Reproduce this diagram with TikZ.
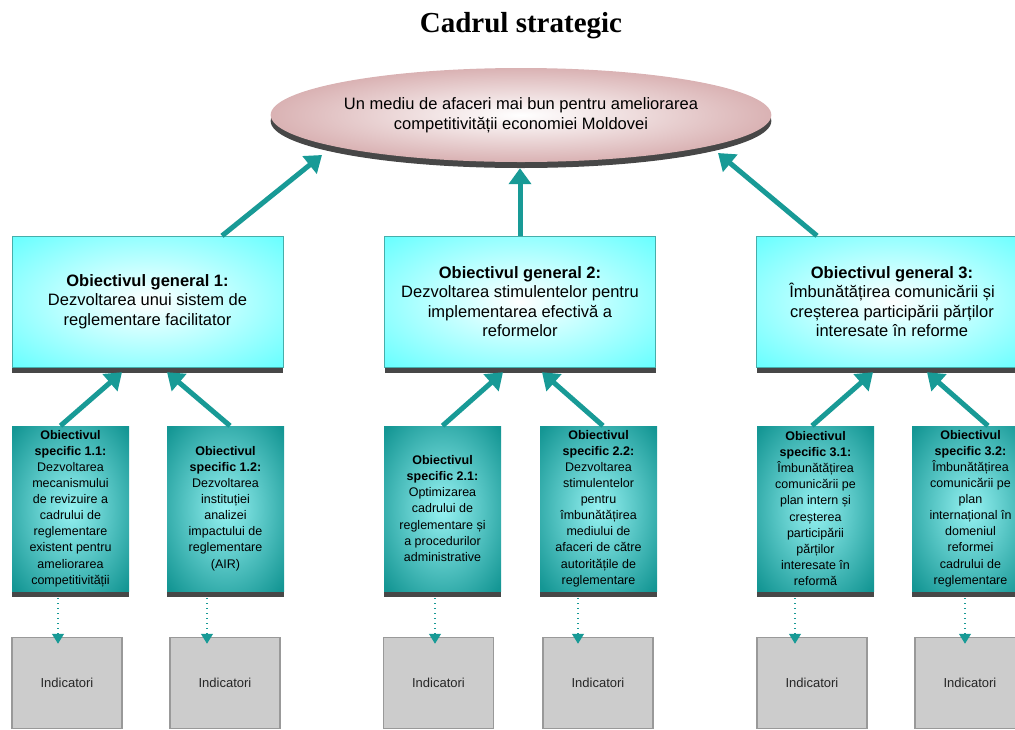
\documentclass[tikz,border=0pt]{standalone}
\usepackage{fontspec}
\setmainfont{Liberation Serif}
\setsansfont{Liberation Sans}
\usepackage{tikz}
\usetikzlibrary{arrows.meta, shapes.geometric, shadows, calc}

\definecolor{tealline}{RGB}{24,154,150}
\definecolor{genouter}{RGB}{100,255,255}
\definecolor{specouter}{RGB}{20,150,148}
\definecolor{specinner}{RGB}{150,242,242}
\definecolor{roseouter}{RGB}{198,138,140}

% radial fills that reach the outer colour before the edge
\pgfdeclareradialshading{genglow}{\pgfpoint{0bp}{0bp}}{color(0bp)=(white); color(36bp)=(genouter); color(50bp)=(genouter)}
\pgfdeclareradialshading{specglow}{\pgfpoint{0bp}{0bp}}{color(0bp)=(specinner); color(34bp)=(specouter); color(50bp)=(specouter)}
\pgfdeclareradialshading{roseglow}{\pgfpoint{0bp}{0bp}}{color(0bp)=(white); color(38bp)=(roseouter); color(50bp)=(roseouter)}

\begin{document}
\begin{tikzpicture}[
  x=1pt, y=-1pt,
  >={Triangle[length=16pt,width=22pt]},
  link/.style={->, line width=5pt, tealline},
  dotlink/.style={-{Triangle[length=10pt,width=12pt]}, line width=1.2pt, dash pattern=on 1pt off 4pt, tealline},
  depth/.style={drop shadow={shadow xshift=0pt, shadow yshift=-6pt, opacity=1, fill=black!72}},
  goalnode/.style={ellipse, depth, shading=roseglow, minimum width=478pt, minimum height=94pt,
    inner sep=0pt, align=center, font=\sffamily\fontsize{16.5}{20}\selectfont},
  general/.style={rectangle, depth, draw=tealline!80, shading=genglow, minimum width=271pt,
    minimum height=131pt, inner sep=0pt, align=center, font=\sffamily\fontsize{16.5}{19.5}\selectfont},
  specific/.style={rectangle, depth, shading=specglow, minimum width=117pt, minimum height=165pt,
    inner sep=0pt, align=center, font=\sffamily\fontsize{12.5}{16.1}\selectfont},
  indbox/.style={rectangle, draw=black!40, line width=1.5pt, fill=black!20, minimum width=110pt,
    minimum height=91pt, font=\sffamily\fontsize{13}{15}\selectfont, text=black!85},
]
\useasboundingbox (0,0) rectangle (1015,729);

% Title
\node[font=\rmfamily\bfseries\fontsize{29}{34}\selectfont] (title) at (521,26) {Cadrul strategic};

% Overall goal
\node[goalnode] (goal) at (521,115)
  {Un mediu de afaceri mai bun pentru ameliorarea\\competitivității economiei Moldovei};

% General objectives
\node[general] (og1) at (147.5,301.5)
  {\textbf{Obiectivul general 1:}\\Dezvoltarea unui sistem de\\reglementare facilitator};
\node[general] (og2) at (520,301.5)
  {\textbf{Obiectivul general 2:}\\Dezvoltarea stimulentelor pentru\\implementarea efectivă a\\reformelor};
\node[general] (og3) at (892,301.5)
  {\textbf{Obiectivul general 3:}\\Îmbunătățirea comunicării și\\creșterea participării părților\\interesate în reforme};

% Specific objectives
\node[specific] (os11) at (70.5,508.5)
  {\textbf{Obiectivul}\\\textbf{specific 1.1:}\\Dezvoltarea\\mecanismului\\de revizuire a\\cadrului de\\reglementare\\existent pentru\\ameliorarea\\competitivității};
\node[specific] (os12) at (225.5,508.5)
  {\textbf{Obiectivul}\\\textbf{specific 1.2:}\\Dezvoltarea\\instituției\\analizei\\impactului de\\reglementare\\(AIR)};
\node[specific] (os21) at (442.5,508.5)
  {\textbf{Obiectivul}\\\textbf{specific 2.1:}\\Optimizarea\\cadrului de\\reglementare și\\a procedurilor\\administrative};
\node[specific] (os22) at (598.5,508.5)
  {\textbf{Obiectivul}\\\textbf{specific 2.2:}\\Dezvoltarea\\stimulentelor\\pentru\\îmbunătățirea\\mediului de\\afaceri de către\\autoritățile de\\reglementare};
\node[specific] (os31) at (815.5,508.5)
  {\textbf{Obiectivul}\\\textbf{specific 3.1:}\\Îmbunătățirea\\comunicării pe\\plan intern și\\creșterea\\participării\\părților\\interesate în\\reformă};
\node[specific] (os32) at (970.5,508.5)
  {\textbf{Obiectivul}\\\textbf{specific 3.2:}\\Îmbunătățirea\\comunicării pe\\plan\\internațional în\\domeniul\\reformei\\cadrului de\\reglementare};

% Indicators
\node[indbox] (ind11) at (67,683) {Indicatori};
\node[indbox] (ind12) at (225,683) {Indicatori};
\node[indbox] (ind21) at (438.5,683) {Indicatori};
\node[indbox] (ind22) at (598,683) {Indicatori};
\node[indbox] (ind31) at (812,683) {Indicatori};
\node[indbox] (ind32) at (970,683) {Indicatori};

% Arrows up to the goal
\draw[link] ([xshift=74.5pt]og1.north) -- ([shift={(-199,40)}]goal.center);
\draw[link] (og2.north) -- ([shift={(-1,6)}]goal.south);
\draw[link] ([xshift=-75pt]og3.north) -- ([shift={(197,38)}]goal.center);

% Arrows up to the general objectives
\draw[link] ([xshift=-10pt]os11.north) -- ([shift={(-25.5,5)}]og1.south);
\draw[link] ([xshift=4.5pt]os12.north) -- ([shift={(19.5,5)}]og1.south);
\draw[link] (os21.north) -- ([shift={(-17,5)}]og2.south);
\draw[link] ([xshift=4.5pt]os22.north) -- ([shift={(22,5)}]og2.south);
\draw[link] ([xshift=-3.5pt]os31.north) -- ([shift={(-19,5)}]og3.south);
\draw[link] ([xshift=17.5pt]os32.north) -- ([shift={(35,5)}]og3.south);

% Dotted links down to the indicators
\draw[dotlink] ([shift={(-12.5,7)}]os11.south) -- ([shift={(-12.5,7)}]os11.south |- ind11.north);
\draw[dotlink] ([shift={(-18.5,7)}]os12.south) -- ([shift={(-18.5,7)}]os12.south |- ind12.north);
\draw[dotlink] ([shift={(-7.5,7)}]os21.south) -- ([shift={(-7.5,7)}]os21.south |- ind21.north);
\draw[dotlink] ([shift={(-20.5,7)}]os22.south) -- ([shift={(-20.5,7)}]os22.south |- ind22.north);
\draw[dotlink] ([shift={(-20.5,7)}]os31.south) -- ([shift={(-20.5,7)}]os31.south |- ind31.north);
\draw[dotlink] ([shift={(-5.5,7)}]os32.south) -- ([shift={(-5.5,7)}]os32.south |- ind32.north);

\end{tikzpicture}
\end{document}
